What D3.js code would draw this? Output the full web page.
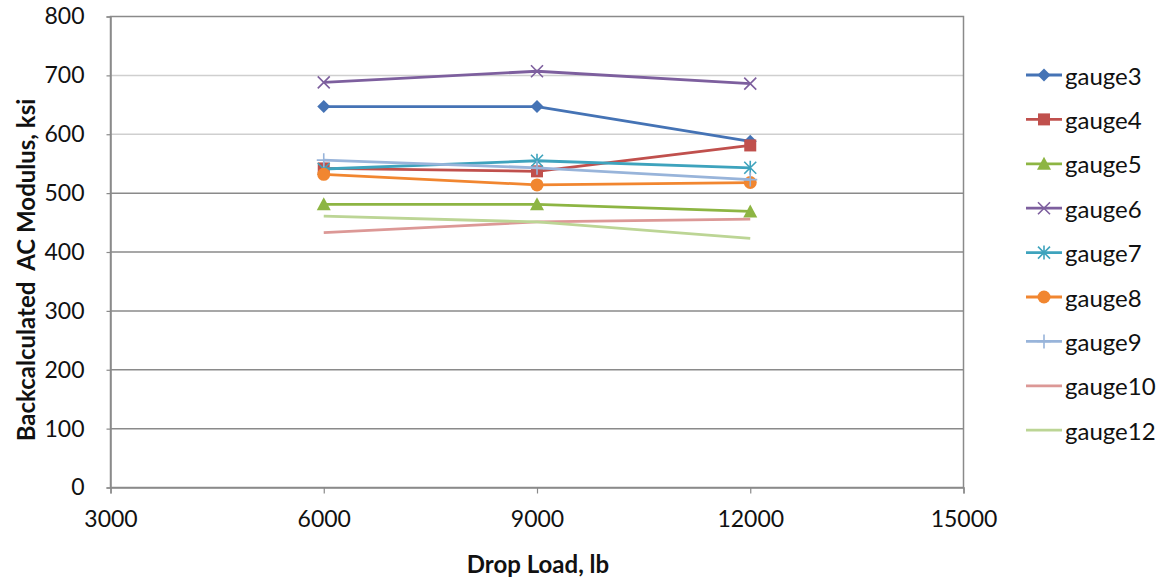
<!DOCTYPE html>
<html>
<head>
<meta charset="utf-8">
<script src="https://cdn.jsdelivr.net/npm/d3@7"></script>
<style>
  html, body { margin: 0; padding: 0; background: #fff; }
  svg { display: block; }
  text { font-family: Lato, "Open Sans", sans-serif; fill: #111; }
</style>
</head>
<body>
<svg id="chart" width="1171" height="580"></svg>
<script>
const loads = [6000, 9000, 12000];
const seriesNames = ["gauge3", "gauge4", "gauge5", "gauge6", "gauge7", "gauge8", "gauge9", "gauge10", "gauge12"];
const gauge3 = [647, 647, 588];
const gauge4 = [542, 537, 581];
const gauge5 = [481, 481, 469];
const gauge6 = [688, 707, 686];
const gauge7 = [541, 555, 543];
const gauge8 = [532, 514, 518];
const gauge9 = [556, 543, 523];
const gauge10 = [433, 451, 456];
const gauge12 = [461, 451, 423];
const xTicks = [3000, 6000, 9000, 12000, 15000];
const yTicks = [0, 100, 200, 300, 400, 500, 600, 700, 800];
const colors = ["#4573b5", "#c0504d", "#8db543", "#7d5f9e", "#3ea3bd", "#f18630", "#98b4da", "#dc9896", "#bcd595"];
const markers = ["diamond", "square", "triangle", "x", "asterisk", "circle", "plus", "none", "none"];

const values = [gauge3, gauge4, gauge5, gauge6, gauge7, gauge8, gauge9, gauge10, gauge12];

const svg = d3.select("#chart");
const L = 110.5, R = 963.5, T = 16.5, B = 487.5;
const x = d3.scaleLinear().domain([3000, 15000]).range([L, R]);
const y = d3.scaleLinear().domain([0, 800]).range([B, T]);

// gridlines
svg.append("g").selectAll("line").data(yTicks.filter(d => d > 0 && d < 800)).join("line")
  .attr("x1", L).attr("x2", R)
  .attr("y1", d => y(d)).attr("y2", d => y(d))
  .attr("stroke", d => d >= 600 ? "#cfcfcf" : "#8a8a8a")
  .attr("stroke-width", 1.5);

// plot border
svg.append("rect").attr("x", L).attr("y", T).attr("width", R - L).attr("height", B - T)
  .attr("fill", "none").attr("stroke", "#8a8a8a").attr("stroke-width", 1.5);

// axes
const xAxis = svg.append("g").attr("transform", `translate(0,${B})`)
  .call(d3.axisBottom(x).tickValues(xTicks).tickSize(6).tickPadding(17).tickFormat(d3.format("d")));
xAxis.select(".domain").attr("stroke", "#8a8a8a").attr("stroke-width", 1.5);
xAxis.selectAll(".tick line").attr("stroke", "#8a8a8a").attr("stroke-width", 1.2);
xAxis.selectAll("text").style("font-size", "23px").attr("fill", "#111").attr("font-family", "Lato");

const yAxis = svg.append("g").attr("transform", `translate(${L},0)`)
  .call(d3.axisLeft(y).tickValues(yTicks).tickSize(4).tickPadding(22));
yAxis.select(".domain").attr("stroke", "#8a8a8a").attr("stroke-width", 1.5);
yAxis.selectAll(".tick line").attr("stroke", "#8a8a8a").attr("stroke-width", 1.2);
yAxis.selectAll("text").style("font-size", "23px").attr("fill", "#111").attr("font-family", "Lato");

// axis titles
svg.append("text").attr("x", (L + R) / 2 + 1).attr("y", 563).attr("text-anchor", "middle")
  .attr("dominant-baseline", "central")
  .style("font-size", "24px").style("font-weight", "bold").text("Drop Load, lb");
svg.append("text").attr("transform", `translate(25,${(T + B) / 2 + 18}) rotate(-90)`)
  .attr("text-anchor", "middle").attr("dominant-baseline", "central")
  .style("font-size", "24px").style("font-weight", "bold").style("white-space", "pre")
  .text("Backcalculated  AC Modulus, ksi");

function drawMarker(g, type, cx, cy, color) {
  const s = 6.5;
  if (type === "diamond") {
    g.append("path").attr("d", `M${cx},${cy - s}L${cx + s},${cy}L${cx},${cy + s}L${cx - s},${cy}Z`).attr("fill", color);
  } else if (type === "square") {
    g.append("rect").attr("x", cx - 6).attr("y", cy - 6).attr("width", 12).attr("height", 12).attr("fill", color);
  } else if (type === "triangle") {
    g.append("path").attr("d", `M${cx},${cy - 7}L${cx + 7},${cy + 6}L${cx - 7},${cy + 6}Z`).attr("fill", color);
  } else if (type === "circle") {
    g.append("circle").attr("cx", cx).attr("cy", cy).attr("r", 6.5).attr("fill", color);
  } else if (type === "x") {
    g.append("path").attr("d", `M${cx - 6},${cy - 6}L${cx + 6},${cy + 6}M${cx - 6},${cy + 6}L${cx + 6},${cy - 6}`)
      .attr("stroke", color).attr("stroke-width", 1.6).attr("fill", "none");
  } else if (type === "asterisk") {
    g.append("path").attr("d", `M${cx - 6},${cy - 6}L${cx + 6},${cy + 6}M${cx - 6},${cy + 6}L${cx + 6},${cy - 6}M${cx},${cy - 7}L${cx},${cy + 7}`)
      .attr("stroke", color).attr("stroke-width", 1.6).attr("fill", "none");
  } else if (type === "plus") {
    g.append("path").attr("d", `M${cx},${cy - 7}L${cx},${cy + 7}M${cx - 7},${cy}L${cx + 7},${cy}`)
      .attr("stroke", color).attr("stroke-width", 1.6).attr("fill", "none");
  }
}

const line = d3.line().x(d => x(d[0])).y(d => y(d[1]));
seriesNames.forEach((name, i) => {
  const pts = loads.map((l, j) => [l, values[i][j]]);
  const g = svg.append("g");
  g.append("path").attr("d", line(pts)).attr("fill", "none")
    .attr("stroke", colors[i]).attr("stroke-width", 2.8).attr("stroke-linejoin", "round");
  pts.forEach(p => drawMarker(g, markers[i], x(p[0]), y(p[1]), colors[i]));
});

// legend
const legY0 = 75, legDy = 44.4;
seriesNames.forEach((name, i) => {
  const g = svg.append("g");
  const yy = legY0 + i * legDy;
  g.append("line").attr("x1", 1026).attr("x2", 1062).attr("y1", yy).attr("y2", yy)
    .attr("stroke", colors[i]).attr("stroke-width", 2.8);
  drawMarker(g, markers[i], 1044, yy, colors[i]);
  g.append("text").attr("x", 1065).attr("y", yy).attr("dominant-baseline", "central")
    .style("font-size", "24px").text(name);
});
</script>
</body>
</html>
